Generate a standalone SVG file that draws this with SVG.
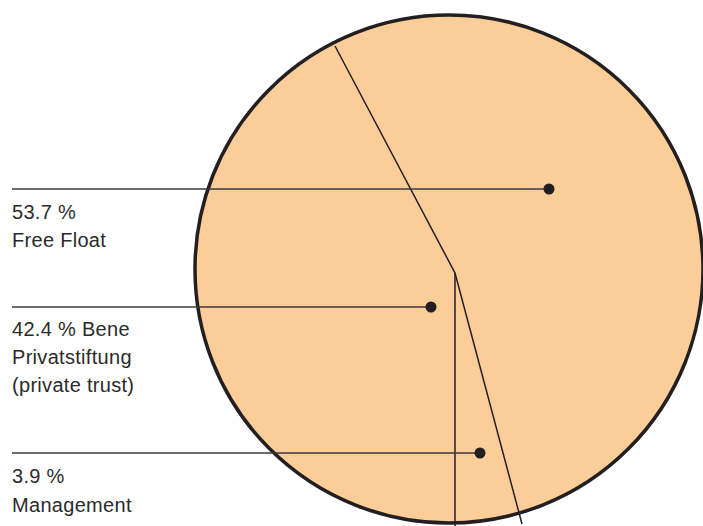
<svg xmlns="http://www.w3.org/2000/svg" width="703" height="526" viewBox="0 0 703 526">
<style>
.lbl{font-family:"Liberation Sans",Arial,sans-serif;font-size:20px;fill:#2b2b2b;letter-spacing:0.3px}
.lead{stroke:#3a3a3a;stroke-width:1.5;fill:none}
.div{stroke:#231f20;stroke-width:1.5;fill:none}
.dot{fill:#231f20}
</style>
<rect width="703" height="526" fill="#ffffff"/>
<g id="pie">
<circle cx="449" cy="269" r="254" fill="#FBCD98" stroke="#231f20" stroke-width="3.5"/>
</g>
<g id="connectors">
<polyline class="div" points="335,46 455,273 455,530"/>
<line class="div" x1="455" y1="273" x2="522" y2="524"/>
<line class="lead" x1="12" y1="189" x2="549" y2="189"/>
<line class="lead" x1="12" y1="307" x2="431" y2="307"/>
<line class="lead" x1="12" y1="453" x2="480" y2="453"/>
</g>
<g id="free-float">
<circle class="dot" cx="549" cy="189" r="5.5"/>
<text class="lbl" x="12" y="219">53.7 %</text>
<text class="lbl" x="12" y="247">Free Float</text>
</g>
<g id="bene">
<circle class="dot" cx="431" cy="307" r="5.5"/>
<text class="lbl" x="12" y="336">42.4 % Bene</text>
<text class="lbl" x="12" y="364">Privatstiftung</text>
<text class="lbl" x="12" y="392">(private trust)</text>
</g>
<g id="management">
<circle class="dot" cx="480" cy="453" r="5.5"/>
<text class="lbl" x="12" y="483">3.9 %</text>
<text class="lbl" x="12" y="512">Management</text>
</g>
</svg>
